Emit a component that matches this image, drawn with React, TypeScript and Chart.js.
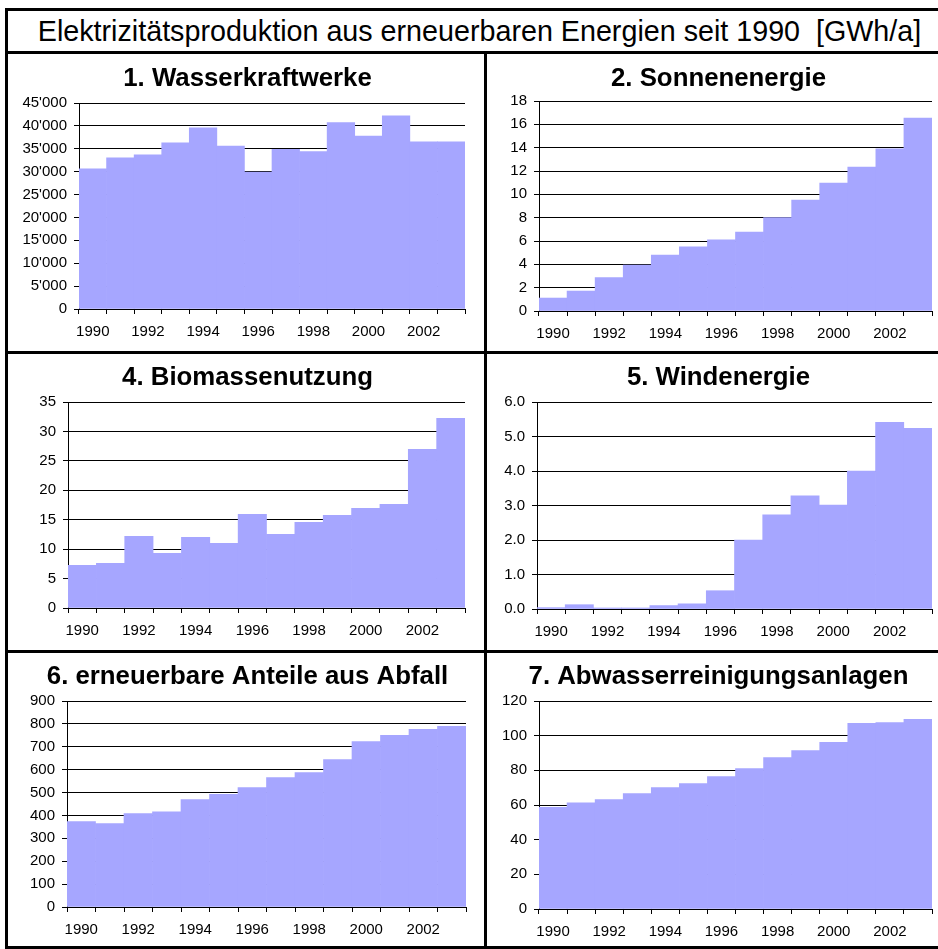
import React, { useEffect, useRef } from "react";
import { Chart, registerables } from "chart.js";

Chart.register(...registerables);

const YEARS = ["1990","1991","1992","1993","1994","1995","1996","1997","1998","1999","2000","2001","2002","2003"];
const MAIN_TITLE = "Elektrizitätsproduktion aus erneuerbaren Energien seit 1990  [GWh/a]";

const wasserkraft = [30600, 33000, 33700, 36300, 39600, 35600, 29900, 34900, 34400, 40700, 37800, 42200, 36500, 36500];
const sonne = [1.11, 1.71, 2.86, 3.94, 4.8, 5.49, 6.09, 6.77, 8.0, 9.51, 10.97, 12.34, 13.91, 16.54];
const biomasse = [7.25, 7.59, 12.17, 9.29, 12.0, 10.99, 15.91, 12.51, 14.55, 15.74, 16.93, 17.61, 26.95, 32.22];
const wind = [0.04, 0.125, 0.03, 0.03, 0.1, 0.15, 0.53, 2.0, 2.73, 3.28, 3.01, 4.0, 5.41, 5.24];
const abfall = [373, 364, 408, 416, 469, 492, 522, 565, 587, 644, 723, 750, 776, 789];
const abwasser = [58.6, 61.3, 63.1, 66.6, 70.0, 72.3, 76.4, 81.0, 87.4, 91.4, 96.1, 107.1, 107.6, 109.4];

const FONT = "'Liberation Sans', Arial, sans-serif";
const BAR_COLOR = "#A6A6FF";

const apostrophe = (v: number) => String(v).replace(/\B(?=(\d{3})+(?!\d))/g, "'");
const oneDecimal = (v: number) => v.toFixed(1);
const plain = (v: number) => String(v);

type Spec = {
  title: string;
  data: number[];
  max: number;
  step: number;
  fmt: (v: number) => string;
  left: number; top: number; height: number;
  cx: number; plotL: number; plotR: number; tc: number; pt: number; xh: number;
};

const SPECS: Spec[] = [
  { title: "1. Wasserkraftwerke", data: wasserkraft, max: 45000, step: 5000, fmt: apostrophe,
    left: 8, top: 54, height: 297, cx: 247.5, plotL: 79, plotR: 465, tc: 25, pt: 49, xh: 42 },
  { title: "2. Sonnenenergie", data: sonne, max: 18, step: 2, fmt: plain,
    left: 487, top: 54, height: 297, cx: 718.5, plotL: 539, plotR: 932, tc: 25, pt: 47, xh: 40 },
  { title: "4. Biomassenutzung", data: biomasse, max: 35, step: 5, fmt: plain,
    left: 8, top: 354, height: 296, cx: 247.5, plotL: 68, plotR: 465, tc: 24, pt: 48, xh: 42 },
  { title: "5. Windenergie", data: wind, max: 6, step: 1, fmt: oneDecimal,
    left: 487, top: 354, height: 296, cx: 718.5, plotL: 537, plotR: 932, tc: 24, pt: 48, xh: 41 },
  { title: "6. erneuerbare Anteile aus Abfall", data: abfall, max: 900, step: 100, fmt: plain,
    left: 8, top: 653, height: 293, cx: 247.5, plotL: 67, plotR: 466, tc: 24, pt: 48, xh: 39 },
  { title: "7. Abwasserreinigungsanlagen", data: abwasser, max: 120, step: 20, fmt: plain,
    left: 487, top: 653, height: 293, cx: 718.5, plotL: 539, plotR: 932, tc: 24, pt: 48, xh: 37 },
];

function SubChart({ spec }: { spec: Spec }) {
  const ref = useRef<HTMLCanvasElement | null>(null);
  const width = Math.round(2 * (spec.cx - spec.left));
  useEffect(() => {
    if (!ref.current) return;
    const titleSize = 25.8;
    const lh = titleSize * 1.2;
    const ptop = spec.tc - lh / 2;
    const pbot = spec.pt - ptop - lh;
    const n = YEARS.length;
    const yw = spec.plotL - spec.left;
    const hiddenW = spec.left + width - spec.plotR;
    const chart = new Chart(ref.current, {
      type: "bar",
      data: {
        labels: YEARS,
        datasets: [{
          data: spec.data,
          backgroundColor: BAR_COLOR,
          borderWidth: 0,
          categoryPercentage: 1,
          barPercentage: 1,
          yAxisID: "y",
        }],
      },
      options: {
        animation: false,
        responsive: false,
        devicePixelRatio: 1,
        layout: { padding: 0 },
        plugins: {
          legend: { display: false },
          tooltip: { enabled: false },
          title: {
            display: true,
            text: spec.title,
            color: "#000",
            font: { family: FONT, size: titleSize, weight: "bold", lineHeight: 1.2 },
            padding: { top: ptop, bottom: pbot },
          },
        },
        scales: {
          x: {
            offset: true,
            grid: {
              offset: true,
              drawOnChartArea: true,
              color: (ctx: any) => (ctx.index === n ? "#808080" : "rgba(0,0,0,0)"),
              tickColor: "#000",
              tickLength: 5,
              lineWidth: 1,
            },
            border: { display: true, color: "#000", width: 1 },
            ticks: {
              autoSkip: false,
              maxRotation: 0,
              minRotation: 0,
              padding: 9,
              color: "#000",
              font: { family: FONT, size: 15 },
              callback: (_v: any, i: number) => (i % 2 === 0 ? YEARS[i] : ""),
            },
            afterFit: (scale: any) => { scale.height = spec.xh; },
          },
          y: {
            position: "left",
            min: 0,
            max: spec.max,
            grid: { color: "#000", tickColor: "#000", tickLength: 5, lineWidth: 1 },
            border: { display: true, color: "#000", width: 1 },
            ticks: {
              stepSize: spec.step,
              padding: 7,
              color: "#000",
              font: { family: FONT, size: 15 },
              callback: (v: any) => spec.fmt(Number(v)),
            },
            afterFit: (scale: any) => { scale.width = yw; },
          },
          spacer: {
            type: "linear",
            position: "right",
            display: true,
            min: 0,
            max: 1,
            grid: { display: false, drawTicks: false },
            border: { display: false },
            ticks: { display: false },
            afterFit: (scale: any) => { scale.width = hiddenW; },
          },
        },
      },
    });
    return () => chart.destroy();
  }, [spec, width]);
  return (
    <canvas
      ref={ref}
      width={width}
      height={spec.height}
      style={{ position: "absolute", left: spec.left, top: spec.top, width, height: spec.height }}
    />
  );
}

const line = (left: number, top: number, width: number, height: number) => (
  <div style={{ position: "absolute", left, top, width, height, background: "#000" }} />
);

export default function App() {
  return (
    <div style={{ position: "absolute", left: 0, top: 0, width: 938, height: 949, overflow: "hidden", background: "#fff", fontFamily: FONT }}>
      <div style={{ position: "absolute", left: 8, top: 11, width: 943, height: 40, display: "flex", alignItems: "center", justifyContent: "center", fontSize: 28.7, color: "#000", whiteSpace: "pre" }}>
        {MAIN_TITLE}
      </div>
      {SPECS.map((s, i) => <SubChart key={i} spec={s} />)}
      {line(5, 8, 933, 3)}
      {line(5, 51, 933, 3)}
      {line(5, 351, 933, 3)}
      {line(5, 650, 933, 3)}
      {line(5, 946, 933, 3)}
      {line(5, 8, 3, 941)}
      {line(484, 51, 3, 898)}
    </div>
  );
}
